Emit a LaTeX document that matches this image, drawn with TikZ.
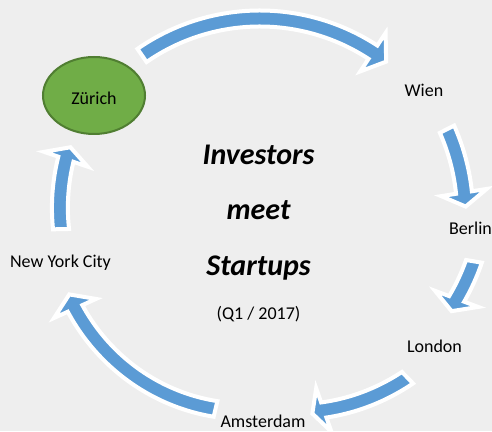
\documentclass[tikz,border=0pt]{standalone}
\usepackage{fontspec}
\setmainfont{Carlito}
\usetikzlibrary{shapes.geometric}

\definecolor{bggray}{RGB}{238,238,238}
\definecolor{arrowblue}{RGB}{91,155,213}
\definecolor{zhgreen}{RGB}{112,173,71}
\definecolor{zhborder}{RGB}{80,126,50}

% tail angle, head base angle, tip angle, tail radius, head radius
\newcommand\cyclearrow[5]{%
  \filldraw[arrowbody]
    plot[domain=#1:#2, samples=50] (\x:{#4+(#5-#4)*(\x-(#1))/((#2)-(#1))+8})
    -- (#2:{#5+23}) -- (#3:#5) -- (#2:{#5-23})
    -- plot[domain=#2:#1, samples=50] (\x:{#4+(#5-#4)*(\x-(#1))/((#2)-(#1))-8})
    -- cycle;
}

\begin{document}
\begin{tikzpicture}[x=1pt, y=1pt,
    city/.style={anchor=base, font=\fontsize{18}{22}\selectfont},
    title/.style={anchor=base, font=\fontsize{30}{36}\selectfont\bfseries\itshape},
    arrowbody/.style={fill=arrowblue, draw=white, line width=4pt, line join=miter}]
            \fill[bggray] (0,0) rectangle (492,431);
            \useasboundingbox (0,0) rectangle (492,431);

            \begin{scope}[shift={(259,206)}]
                \cyclearrow{124.6}{56.6}{52.1}{206}{207}
                \cyclearrow{27}{9}{5.1}{211}{207.5}
                \cyclearrow{-9.6}{-20.5}{-24.1}{218}{211}
                \cyclearrow{-45.8}{-70.7}{-74.2}{213}{196}
                \cyclearrow{-103.3}{-155.6}{-159.9}{189}{202}
                \cyclearrow{181.2}{161.2}{157.6}{198}{204}
            \end{scope}

            \node[ellipse, draw=zhborder, fill=zhgreen, line width=2pt,
                  minimum width=102, minimum height=77, inner sep=0pt,
                  font=\fontsize{18}{22}\selectfont,
                  text height=19pt, text depth=0pt] (zurich) at (94,335.5) {Zürich};

            \node[city] (wien) at (424,334) {Wien};
            \node[city] (berlin) at (470.5,196) {Berlin};
            \node[city] (london) at (434.5,79) {London};
            \node[city] (amsterdam) at (263,4) {Amsterdam};
            \node[city] (nyc) at (60.5,163) {New York City};

            \node[title] (investors) at (258.5,266) {Investors};
            \node[title] (meet) at (258.5,211) {meet};
            \node[title] (startups) at (258.5,155) {Startups};
            \node[city] (quarter) at (258.5,111) {(Q1 / 2017)};
        \end{tikzpicture}
\end{document}
